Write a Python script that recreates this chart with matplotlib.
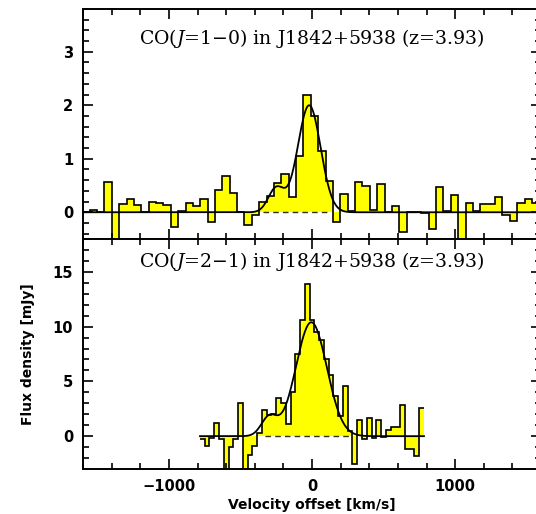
import numpy as np
import matplotlib
matplotlib.use("Agg")
import matplotlib.pyplot as plt
from matplotlib.ticker import MultipleLocator

plt.rcParams['mathtext.fontset'] = 'dejavuserif'

# CO(1-0) spectrum: channel edges start / width [km/s], flux [mJy]
co10_v0 = -1605.0
co10_dv = 51.5
co10_flux = [0.0, 0.05, 0.0, 0.57, -0.6, 0.15, 0.24, 0.13, 0.0, 0.2,
             0.17, 0.13, -0.28, 0.03, 0.17, 0.12, 0.25, -0.18, 0.42, 0.68,
             0.36, 0.0, -0.24, -0.05, 0.2, 0.3, 0.55, 0.72, 0.28, 1.05,
             2.2, 1.8, 1.15, 0.58, -0.18, 0.34, 0.03, 0.56, 0.5, 0.05,
             0.52, 0.0, 0.11, -0.36, 0.0, 0.0, -0.02, -0.32, 0.47, 0.02,
             0.32, -0.6, 0.18, 0.03, 0.15, 0.15, 0.29, -0.05, -0.16, 0.17,
             0.25, 0.18]
# gaussian fit components (amplitude, centre, sigma)
co10_fit = [(2.0, -20.0, 80.0), (0.45, -250.0, 55.0)]
co10_dash = (-340, 130)

# CO(2-1) spectrum
co21_v0 = -783.0
co21_dv = 33.3
co21_flux = [-0.3, -0.9, -0.2, 1.2, -0.3, -3.5, -1.0, -0.3, 3.0, -3.5,
             -1.7, -0.9, 0.3, 2.4, 1.9, 2.0, 3.5, 3.0, 1.1, 4.0,
             7.5, 10.6, 13.9, 10.6, 9.5, 8.8, 7.0, 5.6, 3.7, 1.8,
             4.6, 0.5, -2.5, 1.5, -0.3, 1.7, -0.2, 1.5, -0.1, 0.6,
             0.8, 0.8, 2.8, -1.2, -1.2, -1.8, 2.6]
co21_fit = [(10.4, -5.0, 108.0), (1.7, -300.0, 55.0)]
co21_dash = (-330, 265)

titles = ["CO($J$=1\u22120) in J1842+5938 (z=3.93)",
          "CO($J$=2\u22121) in J1842+5938 (z=3.93)"]

yellow = '#ffff00'


def model(v, comps):
    out = np.zeros_like(v)
    for a, mu, sig in comps:
        out += a * np.exp(-0.5 * ((v - mu) / sig) ** 2)
    return out


def draw_panel(ax, v0, dv, flux, comps, dash, vrange):
    flux = np.array(flux)
    edges = v0 + dv * np.arange(len(flux) + 1)
    ax.stairs(flux, edges, baseline=0, fill=True, color=yellow, lw=0)
    ax.stairs(flux, edges, baseline=None, color='black', lw=1.2)
    ax.plot(dash, [0, 0], color='#333300', lw=1.0, ls=(0, (4, 3)))
    v = np.linspace(vrange[0], vrange[1], 800)
    ax.plot(v, model(v, comps), color='black', lw=1.3)


fig = plt.figure(figsize=(5.36, 5.14), dpi=100)
ax1 = fig.add_axes([0.1549, 0.535, 0.8545, 0.4475])
ax2 = fig.add_axes([0.1549, 0.0875, 0.8545, 0.4475])

draw_panel(ax1, co10_v0, co10_dv, co10_flux, co10_fit, co10_dash, (-1600, 1600))
draw_panel(ax2, co21_v0, co21_dv, co21_flux, co21_fit, co21_dash,
           (co21_v0, co21_v0 + co21_dv * len(co21_flux)))

ax1.set_ylim(-0.5, 3.8)
ax2.set_ylim(-3, 18)
ax1.yaxis.set_major_locator(MultipleLocator(1))
ax1.yaxis.set_minor_locator(MultipleLocator(0.2))
ax2.yaxis.set_major_locator(MultipleLocator(5))
ax2.yaxis.set_minor_locator(MultipleLocator(1))

for ax in (ax1, ax2):
    ax.set_xlim(-1600, 1600)
    ax.xaxis.set_major_locator(MultipleLocator(1000))
    ax.xaxis.set_minor_locator(MultipleLocator(200))
    ax.tick_params(which='both', direction='in', top=True, right=True, width=1.2)
    ax.tick_params(which='major', length=7, pad=7, labelsize=10.5)
    ax.tick_params(which='minor', length=4)
    for lab in ax.get_xticklabels() + ax.get_yticklabels():
        lab.set_fontweight('bold')
    for sp in ax.spines.values():
        sp.set_linewidth(1.4)

ax1.tick_params(labelbottom=False)

ax1.text(0.5, 0.872, titles[0], transform=ax1.transAxes, ha='center', va='center',
         family='DejaVu Serif', fontsize=13.6)
ax2.text(0.5, 0.904, titles[1], transform=ax2.transAxes, ha='center', va='center',
         family='DejaVu Serif', fontsize=13.6)

ax2.set_xlabel('Velocity offset [km/s]', fontsize=10, fontweight='bold')
ax2.xaxis.set_label_coords(0.5, -0.125)
ax2.set_ylabel('Flux density [mJy]', fontsize=10, fontweight='bold')
ax2.yaxis.set_label_coords(-0.105, 0.5)

fig.savefig('out.png', dpi=100)
